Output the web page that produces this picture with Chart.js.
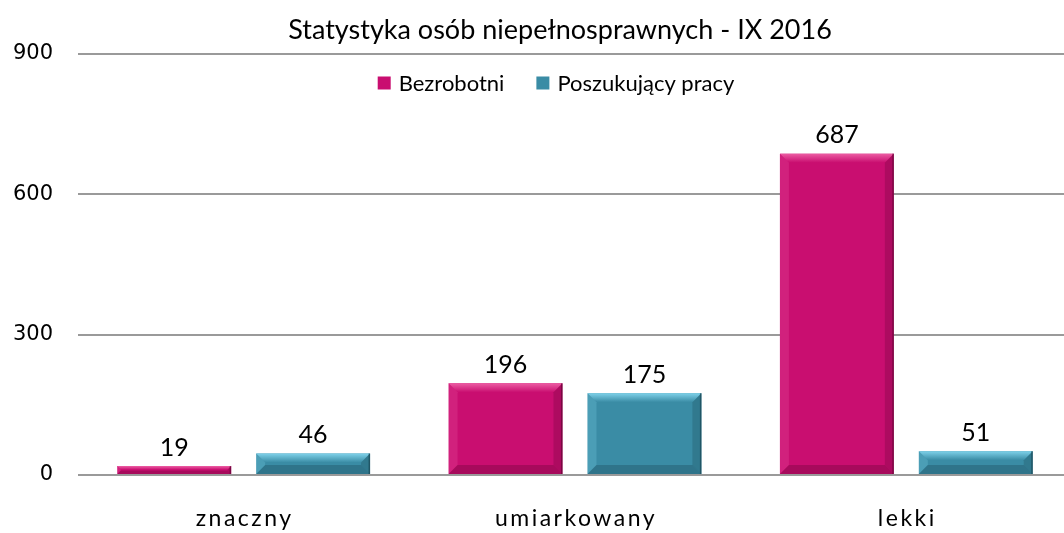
<!DOCTYPE html>
<html>
<head>
<meta charset="utf-8">
<script src="https://cdn.jsdelivr.net/npm/chart.js@4"></script>
<style>
  html, body { margin: 0; padding: 0; background: #fff; overflow: hidden; }
  #wrap { width: 1064px; height: 533px; overflow: hidden; }
</style>
</head>
<body>
<!-- plot runs a few px past the right edge in the original, so the canvas is a bit wider than the window -->
<div id="wrap"><canvas id="myChart" width="1072" height="533"></canvas></div>
<script>
const categories = ['znaczny', 'umiarkowany', 'lekki'];
const bezrobotni = [19, 196, 687];
const poszukujacy = [46, 175, 51];
const yTicks = [0, 300, 600, 900];
const chartTitle = 'Statystyka osób niepełnosprawnych - IX 2016';

const PINK = '#C90E70';
const TEAL = '#3A8CA5';
const FONT = 'Lato, "Open Sans", sans-serif';

// soft bevel on each bar, like the office 3D preset
const bevelPlugin = {
    id: 'bevel',
    afterDatasetsDraw(chart) {
        const ctx = chart.ctx;
        chart.data.datasets.forEach((ds, i) => {
            const light = ds.bevelLight, dark = ds.bevelDark;
            chart.getDatasetMeta(i).data.forEach(bar => {
                const l = bar.x - bar.width / 2, r = bar.x + bar.width / 2;
                const t = bar.y, b = bar.base;
                const h = b - t;
                const bv = Math.min(9, h / 2.2, bar.width / 4);
                ctx.save();
                // top band
                const g = ctx.createLinearGradient(0, t, 0, t + bv);
                g.addColorStop(0, light);
                g.addColorStop(1, ds.backgroundColor);
                ctx.fillStyle = g;
                ctx.beginPath();
                ctx.moveTo(l, t); ctx.lineTo(r, t); ctx.lineTo(r - bv, t + bv); ctx.lineTo(l + bv, t + bv); ctx.closePath();
                ctx.fill();
                // left side
                ctx.globalAlpha = 0.25;
                ctx.fillStyle = light;
                ctx.beginPath();
                ctx.moveTo(l, t); ctx.lineTo(l + bv, t + bv); ctx.lineTo(l + bv, b - bv); ctx.lineTo(l, b); ctx.closePath();
                ctx.fill();
                // right and bottom sides
                ctx.globalAlpha = 0.25;
                ctx.fillStyle = dark;
                ctx.beginPath();
                ctx.moveTo(r, t); ctx.lineTo(r - bv, t + bv); ctx.lineTo(r - bv, b - bv); ctx.lineTo(r, b); ctx.closePath();
                ctx.fill();
                ctx.globalAlpha = 0.3;
                ctx.beginPath();
                ctx.moveTo(l, b); ctx.lineTo(l + bv, b - bv); ctx.lineTo(r - bv, b - bv); ctx.lineTo(r, b); ctx.closePath();
                ctx.fill();
                // thin dark outline on right edge
                ctx.globalAlpha = 0.6;
                ctx.fillRect(r - 1.5, t, 1.5, h);
                ctx.restore();
            });
        });
    }
};

const valueLabels = {
    id: 'valueLabels',
    afterDatasetsDraw(chart) {
        const ctx = chart.ctx;
        ctx.save();
        ctx.font = '25px ' + FONT;
        ctx.fillStyle = '#000';
        ctx.textAlign = 'center';
        ctx.textBaseline = 'bottom';
        chart.data.datasets.forEach((ds, i) => {
            chart.getDatasetMeta(i).data.forEach((bar, j) => {
                ctx.fillText(ds.data[j], bar.x, bar.y - 6);
            });
        });
        ctx.restore();
    }
};

// category labels, drawn with the wide letter spacing of the original
const xLabels = {
    id: 'xLabels',
    afterDraw(chart) {
        const ctx = chart.ctx;
        const sx = chart.scales.x;
        ctx.save();
        ctx.font = '23px ' + FONT;
        ctx.letterSpacing = '2.5px';
        ctx.fillStyle = '#000';
        ctx.textAlign = 'center';
        ctx.textBaseline = 'middle';
        categories.forEach((c, k) => {
            ctx.fillText(c, sx.getPixelForTick(k) + 1, sx.top + 44);
        });
        ctx.restore();
    }
};

// title and legend drawn by hand: the legend sits inside the plot, under the 900 line
const headText = {
    id: 'headText',
    afterDraw(chart) {
        const ctx = chart.ctx;
        ctx.save();
        ctx.fillStyle = '#000';
        ctx.font = '27px ' + FONT;
        ctx.textAlign = 'center';
        ctx.textBaseline = 'middle';
        ctx.fillText(chartTitle, 560, 30);

        const box = 13, gapBox = 8, gapItem = 32;
        ctx.font = '22px ' + FONT;
        ctx.textAlign = 'left';
        const items = chart.data.datasets.map(ds => ({ text: ds.label, color: ds.backgroundColor, w: ctx.measureText(ds.label).width }));
        let total = 0;
        items.forEach((it, k) => { total += box + gapBox + it.w + (k ? gapItem : 0); });
        let x = 556 - total / 2;
        const y = 83;
        items.forEach(it => {
            ctx.fillStyle = it.color;
            ctx.fillRect(x, y - box / 2, box, box);
            ctx.fillStyle = '#000';
            ctx.fillText(it.text, x + box + gapBox, y + 1);
            x += box + gapBox + it.w + gapItem;
        });
        ctx.restore();
    }
};

const ctx = document.getElementById('myChart').getContext('2d');
new Chart(ctx, {
    type: 'bar',
    data: {
        labels: categories,
        datasets: [{
            label: 'Bezrobotni',
            data: bezrobotni,
            backgroundColor: PINK,
            bevelLight: '#EC5DA3',
            bevelDark: '#5A0330',
            categoryPercentage: 0.8385,
            barPercentage: 0.82
        }, {
            label: 'Poszukujący pracy',
            data: poszukujacy,
            backgroundColor: TEAL,
            bevelLight: '#7FD2EA',
            bevelDark: '#163F4B',
            categoryPercentage: 0.8385,
            barPercentage: 0.82
        }]
    },
    options: {
        responsive: false,
        animation: false,
        layout: { padding: { left: 0, right: 0, top: 54, bottom: 0 } },
        plugins: {
            legend: { display: false },
            tooltip: { enabled: false },
            title: { display: false }
        },
        scales: {
            x: {
                grid: { display: false, drawTicks: false },
                border: { display: false },
                ticks: { display: false },
                afterFit(scale) { scale.height = 58; }
            },
            y: {
                min: 0,
                max: 900,
                afterBuildTicks(scale) { scale.ticks = yTicks.map(v => ({ value: v })); },
                afterFit(scale) { scale.width = 78; },
                grid: { color: '#9a9a9a', lineWidth: 2, drawTicks: false },
                border: { display: false },
                ticks: {
                    color: '#000',
                    padding: 25,
                    font: { family: '"DejaVu Sans", sans-serif', size: 21 }
                }
            }
        }
    },
    plugins: [bevelPlugin, valueLabels, xLabels, headText]
});
</script>
</body>
</html>
